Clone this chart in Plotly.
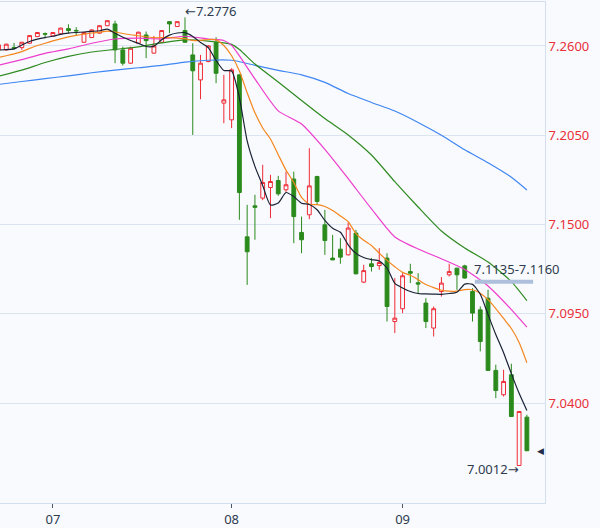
import plotly.graph_objects as go

# ---- data ----
day_labels = ["07", "08", "09"]
day_tick_index = [7, 30, 52]

open_ = [7.2576, 7.2576, 7.2591, 7.2590, 7.2617, 7.2658, 7.2676, 7.2662, 7.2675, 7.2707,
         7.2696, 7.2623, 7.2652, 7.2679, 7.2725, 7.2736, 7.2576, 7.2494, 7.2617, 7.2668,
         7.2556, 7.2623, 7.2750, 7.2720, 7.2695, 7.2545, 7.2391, 7.2504, 7.2621, 7.2248,
         7.2145, 7.2422, 7.1424, 7.1615, 7.1663, 7.1728, 7.1771, 7.1714, 7.1780, 7.1451,
         7.1560, 7.1796, 7.1498, 7.1293, 7.1348, 7.1313, 7.1447, 7.1145, 7.1258, 7.1247,
         7.1293, 7.0902, 7.0981, 7.1210, 7.1141, 7.1016, 7.0862, 7.1087, 7.1190, 7.1231,
         7.1245, 7.1087, 7.0974, 7.1046, 7.0601, 7.0451, 7.0574, 7.0015, 7.0313]
high = [7.2610, 7.2614, 7.2619, 7.2625, 7.2666, 7.2686, 7.2683, 7.2686, 7.2713, 7.2734,
        7.2716, 7.2686, 7.2702, 7.2728, 7.2759, 7.2756, 7.2596, 7.2596, 7.2688, 7.2689,
        7.2662, 7.2698, 7.2752, 7.2753, 7.2776, 7.2617, 7.2545, 7.2605, 7.2654, 7.2422,
        7.2463, 7.2425, 7.1621, 7.1683, 7.1868, 7.1806, 7.1800, 7.1826, 7.1826, 7.1549,
        7.1970, 7.1800, 7.1590, 7.1436, 7.1416, 7.1512, 7.1467, 7.1252, 7.1293, 7.1354,
        7.1323, 7.1170, 7.1200, 7.1258, 7.1200, 7.1046, 7.0995, 7.1176, 7.1258, 7.1233,
        7.1252, 7.1108, 7.0995, 7.1098, 7.0636, 7.0605, 7.0642, 7.0350, 7.0328]
low = [7.2572, 7.2572, 7.2576, 7.2576, 7.2614, 7.2655, 7.2648, 7.2660, 7.2672, 7.2679,
       7.2662, 7.2620, 7.2650, 7.2676, 7.2722, 7.2494, 7.2479, 7.2490, 7.2614, 7.2525,
       7.2553, 7.2620, 7.2679, 7.2717, 7.2620, 7.2052, 7.2272, 7.2500, 7.2371, 7.2124,
       7.2094, 7.1529, 7.1128, 7.1406, 7.1650, 7.1539, 7.1677, 7.1701, 7.1385, 7.1323,
       7.1533, 7.1621, 7.1313, 7.1280, 7.1258, 7.1310, 7.1193, 7.1139, 7.1210, 7.1221,
       7.0902, 7.0831, 7.0954, 7.1139, 7.1077, 7.0862, 7.0810, 7.1056, 7.1180, 7.1098,
       7.1167, 7.0902, 7.0718, 7.0598, 7.0430, 7.0440, 7.0314, 7.0012, 7.0104]
close = [7.2607, 7.2611, 7.2585, 7.2623, 7.2664, 7.2683, 7.2673, 7.2683, 7.2710, 7.2695,
         7.2693, 7.2683, 7.2699, 7.2725, 7.2756, 7.2576, 7.2494, 7.2586, 7.2685, 7.2633,
         7.2600, 7.2695, 7.2736, 7.2750, 7.2623, 7.2447, 7.2494, 7.2600, 7.2432, 7.2268,
         7.2453, 7.1697, 7.1332, 7.1606, 7.1759, 7.1765, 7.1689, 7.1745, 7.1549, 7.1406,
         7.1738, 7.1642, 7.1401, 7.1282, 7.1299, 7.1478, 7.1196, 7.1216, 7.1241, 7.1266,
         7.0995, 7.0923, 7.1184, 7.1200, 7.1133, 7.0902, 7.0981, 7.1139, 7.1210, 7.1190,
         7.1170, 7.0954, 7.0779, 7.0601, 7.0477, 7.0533, 7.0317, 7.0348, 7.0106]
candle_index = list(range(len(close)))

ma5 = [7.2575, 7.2577, 7.2582, 7.2606, 7.2628, 7.2642, 7.2652, 7.2660, 7.2672, 7.2679,
       7.2683, 7.2686, 7.2690, 7.2694, 7.2704, 7.2678, 7.2654, 7.2634, 7.2616, 7.2597,
       7.2599, 7.2638, 7.2667, 7.2680, 7.2682, 7.2659, 7.2622, 7.2590, 7.2511, 7.2449,
       7.2446, 7.2281, 7.2015, 7.1858, 7.1740, 7.1620, 7.1632, 7.1697, 7.1672, 7.1631,
       7.1623, 7.1591, 7.1525, 7.1477, 7.1452, 7.1375, 7.1322, 7.1297, 7.1284, 7.1275,
       7.1232, 7.1137, 7.1109, 7.1087, 7.1075, 7.1072, 7.1071, 7.1070, 7.1075, 7.1083,
       7.1133, 7.1131, 7.1070, 7.0945, 7.0822, 7.0710, 7.0581, 7.0460, 7.0354]
ma10 = [7.2529, 7.2540, 7.2551, 7.2565, 7.2585, 7.2603, 7.2617, 7.2631, 7.2644, 7.2656,
        7.2665, 7.2673, 7.2680, 7.2685, 7.2691, 7.2686, 7.2677, 7.2669, 7.2663, 7.2657,
        7.2651, 7.2651, 7.2651, 7.2649, 7.2645, 7.2634, 7.2635, 7.2640, 7.2638, 7.2603,
        7.2540, 7.2446, 7.2312, 7.2188, 7.2095, 7.2027, 7.1930, 7.1835, 7.1759, 7.1667,
        7.1625, 7.1622, 7.1611, 7.1586, 7.1553, 7.1517, 7.1444, 7.1403, 7.1371, 7.1323,
        7.1279, 7.1240, 7.1205, 7.1187, 7.1160, 7.1130, 7.1111, 7.1095, 7.1089, 7.1090,
        7.1099, 7.1098, 7.1077, 7.1037, 7.0982, 7.0921, 7.0859, 7.0773, 7.0648]

ma20_index = [0, 3, 6, 9, 12, 15, 18, 21, 24, 27, 29, 30, 31, 33, 36, 39, 42, 45, 48, 51,
              54, 57, 60, 63, 66, 68]
ma20 = [7.2481, 7.2516, 7.2554, 7.2582, 7.2617, 7.2643, 7.2648, 7.2644, 7.2660, 7.2643,
        7.2634, 7.2604, 7.2539, 7.2397, 7.2200, 7.2119, 7.1963, 7.1783, 7.1596, 7.1423,
        7.1349, 7.1289, 7.1223, 7.1121, 7.0976, 7.0868]

ma30_index = [0, 3, 6, 9, 12, 15, 18, 21, 24, 27, 30, 31, 33, 36, 39, 42, 45, 48, 51, 54,
              57, 60, 63, 66, 68]
ma30 = [7.2413, 7.2451, 7.2498, 7.2536, 7.2563, 7.2579, 7.2595, 7.2619, 7.2638, 7.2630,
        7.2610, 7.2578, 7.2489, 7.2378, 7.2264, 7.2153, 7.2052, 7.1928, 7.1764, 7.1608,
        7.1460, 7.1355, 7.1269, 7.1148, 7.1031]

ma60_index = [0, 3, 6, 9, 12, 15, 18, 21, 24, 27, 30, 33, 36, 39, 42, 45, 48, 51, 54, 57,
              60, 63, 66, 68]
ma60 = [7.2363, 7.2381, 7.2399, 7.2416, 7.2435, 7.2451, 7.2466, 7.2480, 7.2501, 7.2512,
        7.2512, 7.2481, 7.2450, 7.2422, 7.2376, 7.2307, 7.2252, 7.2199, 7.2129, 7.2050,
        7.1960, 7.1880, 7.1791, 7.1713]

y_ticks = [7.2600, 7.2050, 7.1500, 7.0950, 7.0400]
band_low, band_high = 7.1135, 7.1160
max_label, min_label = 7.2776, 7.0012
max_index, min_index = 24, 67

# ---- style ----
RED = "#ef2b35"
GREEN = "#2b8a1c"
BG = "#f8fafe"
GRID = "#dbe4f1"
TXT = "#2e3b4e"
FONT = "Noto Sans, DejaVu Sans, sans-serif"

fig = go.Figure()
fig.add_trace(go.Candlestick(
    x=candle_index, open=open_, high=high, low=low, close=close,
    increasing=dict(line=dict(color=RED, width=1), fillcolor=BG),
    decreasing=dict(line=dict(color=GREEN, width=1), fillcolor=GREEN),
    hoverinfo="skip", showlegend=False,
))

lines = [
    (ma60_index, ma60, "#3f86f2"),
    (ma30_index, ma30, "#2f8a20"),
    (ma20_index, ma20, "#ee3ccc"),
    (candle_index, ma10, "#f5861e"),
    (candle_index, ma5, "#1b2236"),
]
for xs, ys, col in lines:
    fig.add_trace(go.Scatter(x=xs, y=ys, mode="lines",
                             line=dict(color=col, width=1.2, shape="spline", smoothing=0.6),
                             hoverinfo="skip", showlegend=False))

# band rectangle
fig.add_shape(type="rect", xref="x", yref="y", x0=61.3, x1=68.8,
              y0=band_low, y1=band_high, fillcolor="#aebfdc", line=dict(width=0), layer="above")

fig.add_annotation(x=61.3, y=band_high, xref="x", yref="y", xanchor="left", yanchor="bottom",
                   xshift=-3, yshift=0, showarrow=False,
                   text=f"{band_low:.4f}-{band_high:.4f}", font=dict(size=13, color=TXT, family=FONT))
fig.add_annotation(x=max_index, y=max_label, xref="x", yref="y", xanchor="left", yanchor="middle",
                   xshift=-2, yshift=6, showarrow=False,
                   text=f"←{max_label:.4f}", font=dict(size=13, color=TXT, family=FONT))
fig.add_annotation(x=min_index, y=min_label, xref="x", yref="y", xanchor="right", yanchor="middle",
                   xshift=2, yshift=-3, showarrow=False,
                   text=f"{min_label:.4f}→", font=dict(size=13, color=TXT, family=FONT))
fig.add_annotation(x=1, y=close[-1], xref="paper", yref="y", xanchor="right", yanchor="middle",
                   xshift=1, showarrow=False, text="◀", font=dict(size=9, color="#1f2d4a", family=FONT))

fig.update_layout(
    width=600, height=528,
    margin=dict(l=0, r=55, t=2, b=25),
    paper_bgcolor=BG, plot_bgcolor=BG,
    showlegend=False,
    xaxis=dict(range=[0.193, 70.33], rangeslider=dict(visible=False),
               tickvals=day_tick_index, ticktext=day_labels,
               showgrid=False, zeroline=False,
               ticks="outside", ticklen=4, tickcolor="#4a5566", tickwidth=1,
               showline=True, linecolor="#d3deee", linewidth=1, mirror=True,
               tickfont=dict(size=13, color=TXT, family=FONT)),
    yaxis=dict(range=[6.9784, 7.2871], side="right",
               tickvals=y_ticks, tickformat=".4f",
               showgrid=True, gridcolor=GRID, gridwidth=1, zeroline=False,
               showline=True, linecolor="#d3deee", linewidth=1, mirror=True,
               ticks="", tickfont=dict(size=13, color="#e8303a", family=FONT)),
)

fig.write_html("out.html",
               config={"displayModeBar": False, "staticPlot": True},
               post_script="document.body.style.margin='0';document.body.style.overflow='hidden';document.body.style.background='%s';" % BG)
